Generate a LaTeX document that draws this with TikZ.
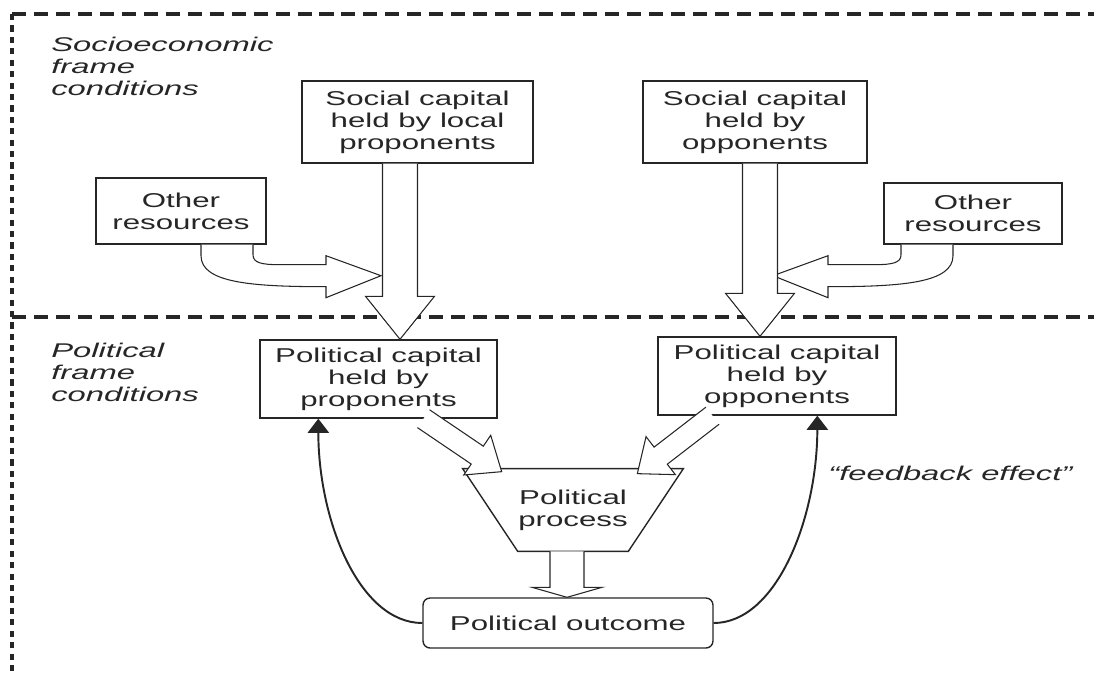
\documentclass[tikz,border=0pt]{standalone}
\usepackage{fontspec}
\setmainfont{Liberation Sans}[FakeStretch=1.56,ItalicFeatures={FakeStretch=1.65}]
\usetikzlibrary{calc,arrows.meta}
\newcommand\fatarrow[5]{%
  \path ($(#2)!#5!(#1)$) coordinate (hb);
  \draw[blk] ($(#1)!#3!90:(#2)$) -- ($(hb)!#3!-90:(#1)$) -- ($(hb)!#4!-90:(#1)$) -- (#2)
    -- ($(hb)!#4!90:(#1)$) -- ($(hb)!#3!90:(#1)$) -- ($(#1)!#3!-90:(#2)$);}
\begin{document}
\begin{tikzpicture}[x=0.02cm,y=-0.02cm,color=black!85,
  font=\fontsize{11.4}{12.5}\selectfont,
  box/.style={draw,align=center,inner sep=0pt,line width=0.8pt},
  lab/.style={anchor=north west,align=left,inner sep=0pt,font=\fontsize{11.3}{12.5}\selectfont\itshape},
  blk/.style={line width=0.6pt,fill=white},
  feed/.style={line width=1.1pt,-{Triangle[width=12pt,length=8pt]}},
  frame/.style={line width=2pt,dash pattern=on 8pt off 4.5pt}]
\useasboundingbox (0,0) rectangle (1094,676);
\draw[frame] (12,14) -- (1094,14);
\draw[frame,line width=2.2pt] (12,317) -- (1094,317);
\draw[line width=1.8pt,dash pattern=on 3.5pt off 3pt] (12,14) -- (12,676);

\node[lab] (soc) at (51,37) {Socioeconomic\\frame\\conditions};
\node[lab] (pol) at (51,343) {Political\\frame\\conditions};
\node[lab,anchor=base west] (fbk) at (828,480) {``feedback effect''};

\node[box,minimum width=4.62cm,minimum height=1.64cm] (SC1) at (417.5,122) {Social capital\\held by local\\proponents};
\node[box,minimum width=4.48cm,minimum height=1.64cm] (SC2) at (755,122) {Social capital\\held by\\opponents};
\node[box,minimum width=3.4cm,minimum height=1.32cm] (OR1) at (181,211) {Other\\resources};
\node[box,minimum width=3.56cm,minimum height=1.22cm] (OR2) at (973,213.5) {Other\\resources};
\node[box,minimum width=4.74cm,minimum height=1.56cm] (PC1) at (378.5,379) {Political capital\\held by\\proponents};
\node[box,minimum width=4.76cm,minimum height=1.56cm] (PC2) at (777,376) {Political capital\\held by\\opponents};
\node[minimum width=4.4cm,minimum height=1.64cm,inner sep=0pt,align=center] (proc) at (573,510) {Political\\process};
\draw[line width=0.8pt] (proc.north west) -- (proc.north east) -- ($(proc.south east)+(-55,0)$) -- ($(proc.south west)+(55,0)$) -- cycle;
\node[box,rounded corners=4pt,minimum width=5.8cm,minimum height=1cm] (out) at (568,623) {Political outcome};

\begin{scope}[shift={(OR1.south)}]
  \draw[blk] (20,0) -- (20,11) .. controls (20,38) and (70,42) .. (145,42) -- (145,53) -- (200,31) -- (145,11)
    -- (145,20) -- (99,20) .. controls (80,20) and (72,18) .. (72,10) -- (72,0);
\end{scope}
\begin{scope}[shift={(OR2.south)},xscale=-1]
  \draw[blk] (20,0) -- (20,11) .. controls (20,38) and (70,42) .. (145,42) -- (145,53) -- (200,31) -- (145,11)
    -- (145,20) -- (99,20) .. controls (80,20) and (72,18) .. (72,10) -- (72,0);
\end{scope}

\coordinate (a1) at ($(SC1.south)+(-17.5,0)$);
\coordinate (a2) at ($(SC2.south)+(5,0)$);
\fatarrow{a1}{a1 |- PC1.north}{0.35cm}{0.69cm}{0.86cm}
\fatarrow{a2}{a2 |- PC2.north}{0.35cm}{0.69cm}{0.86cm}
\coordinate (b1) at ($(PC1.south)+(45,0)$);
\coordinate (c1) at ($(proc.north west)+(39,3)$);
\coordinate (b2) at ($(PC2.south)+(-64.5,0)$);
\coordinate (c2) at ($(proc.north east)+(-46,5)$);
\fatarrow{b1}{c1}{0.216cm}{0.48cm}{0.59cm}
\fatarrow{b2}{c2}{0.216cm}{0.48cm}{0.59cm}
\coordinate (d) at ($(proc.south)+(-6,0)$);
\fatarrow{d}{d |- out.north}{0.34cm}{0.7cm}{0.2cm}

\coordinate (e1) at ($(PC1.south west)+(59,0)$);
\coordinate (e2) at ($(PC2.south west)+(160,0)$);
\draw[feed] (out.west) .. controls +(-63,0) and +(0,102) .. (e1);
\draw[feed] (out.east) .. controls +(63,0) and +(0,102) .. (e2);
\end{tikzpicture}
\end{document}
